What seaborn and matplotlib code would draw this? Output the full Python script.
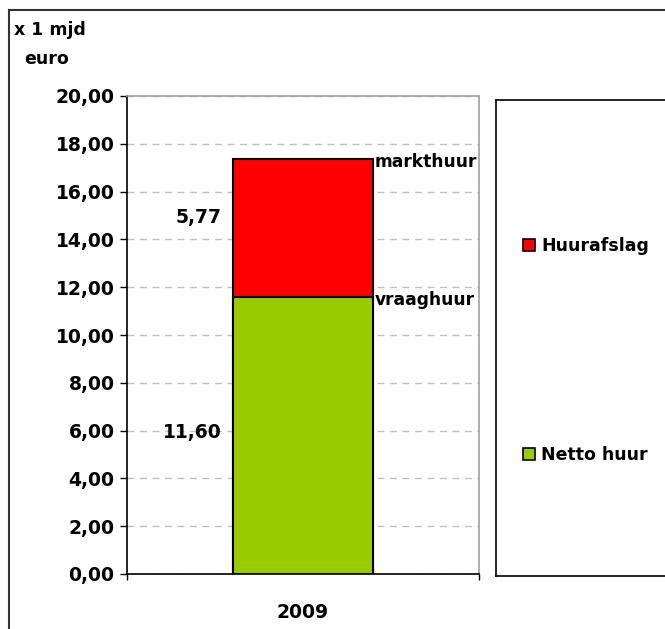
import matplotlib
matplotlib.use("Agg")
import matplotlib.pyplot as plt
import seaborn as sns
import pandas as pd
from matplotlib.patches import Patch, Rectangle
from matplotlib.ticker import FuncFormatter, FixedLocator

years = ["2009"]
netto_huur = [11.60]
huurafslag = [5.77]
series_labels = ["Huurafslag", "Netto huur"]
colors = {"Huurafslag": "#FF0000", "Netto huur": "#99CC00"}

df = pd.DataFrame({"jaar": years, "netto": netto_huur, "afslag": huurafslag})
df["totaal"] = df["netto"] + df["afslag"]

sns.set_style("white")
plt.rcParams["font.family"] = ["DejaVu Sans"]
plt.rcParams["font.weight"] = "bold"
plt.rcParams["text.color"] = "black"
plt.rcParams["xtick.color"] = "black"
plt.rcParams["ytick.color"] = "black"

fig = plt.figure(figsize=(6.65, 6.29), dpi=100)
ax = fig.add_axes([127 / 665, 1 - 574 / 629, 352 / 665, 478 / 629])

# stacked bar: total first, then the bottom part over it
sns.barplot(ax=ax, data=df, x="jaar", y="totaal", color=colors["Huurafslag"],
            width=0.4, edgecolor="black", linewidth=1.5, saturation=1)
sns.barplot(ax=ax, data=df, x="jaar", y="netto", color=colors["Netto huur"],
            width=0.4, edgecolor="black", linewidth=1.5, saturation=1)

ax.set_xlim(-0.5, 0.5)
ax.set_ylim(0, 20)
ax.set_yticks(range(0, 21, 2))
ax.yaxis.set_major_formatter(FuncFormatter(lambda v, p: f"{v:.2f}".replace(".", ",")))
ax.set(xlabel=None, ylabel=None)
ax.set_axisbelow(True)
ax.yaxis.grid(True, color="#c0c0c0", linestyle=(0, (5, 4)), linewidth=1)
ax.xaxis.grid(False)

ax.tick_params(axis="y", labelsize=13.5, length=5, width=1, direction="out", pad=4, left=True,
               colors="black")
ax.tick_params(axis="x", labelsize=13.5, length=0, pad=21, colors="black")
ax.xaxis.set_minor_locator(FixedLocator([-0.5, 0.5]))
ax.tick_params(axis="x", which="minor", length=4, width=1, direction="out", bottom=True,
               colors="black")
for lab in ax.get_xticklabels() + ax.get_yticklabels():
    lab.set_fontweight("bold")
    lab.set_color("black")

ax.spines["left"].set_color("black")
ax.spines["bottom"].set_color("black")
ax.spines["top"].set_color("#a0a0a0")
ax.spines["right"].set_color("#a0a0a0")
for s in ax.spines.values():
    s.set_linewidth(1.2)

# value labels
tot = df["totaal"][0]
fmt = lambda v: f"{v:.2f}".replace(".", ",")
ax.text(-0.23, 14.9, fmt(huurafslag[0]), ha="right", va="center", fontsize=13.5,
        fontweight="bold", color="black")
ax.text(-0.23, 5.94, fmt(netto_huur[0]), ha="right", va="center", fontsize=13.5,
        fontweight="bold", color="black")
ax.text(0.203, tot - 0.15, "markthuur", ha="left", va="center", fontsize=12.3,
        fontweight="bold", color="black")
ax.text(0.203, netto_huur[0] - 0.15, "vraaghuur", ha="left", va="center", fontsize=12.3,
        fontweight="bold", color="black")

# y-axis unit label
fig.text(14 / 665, 1 - 30 / 629, "x 1 mjd", ha="left", va="center", fontsize=12.5,
         fontweight="bold", color="black")
fig.text(24 / 665, 1 - 59 / 629, "euro", ha="left", va="center", fontsize=12.5,
         fontweight="bold", color="black")

# legend box
lax = fig.add_axes([496 / 665, 1 - 576 / 629, 0.27, 476 / 629])
lax.set_xticks([])
lax.set_yticks([])
for s in lax.spines.values():
    s.set_color("black")
    s.set_linewidth(1.2)
handles = [Patch(facecolor=colors[l], edgecolor="black", linewidth=1.2) for l in series_labels]
leg = lax.legend(handles, series_labels, loc="center left", bbox_to_anchor=(0.15, 0.473),
                 frameon=False, labelspacing=11.0, handlelength=0.7, borderpad=0,
                 borderaxespad=0, handleheight=0.7, handletextpad=0.35,
                 prop={"weight": "bold", "size": 12.5})
for t in leg.get_texts():
    t.set_color("black")

# outer chart border
fig.patches.append(Rectangle((9 / 665, -0.01), 1.0, 1 - 10 / 629 + 0.01,
                             transform=fig.transFigure, fill=False,
                             edgecolor="#333333", linewidth=1.5))

fig.savefig("out.png", dpi=100)
